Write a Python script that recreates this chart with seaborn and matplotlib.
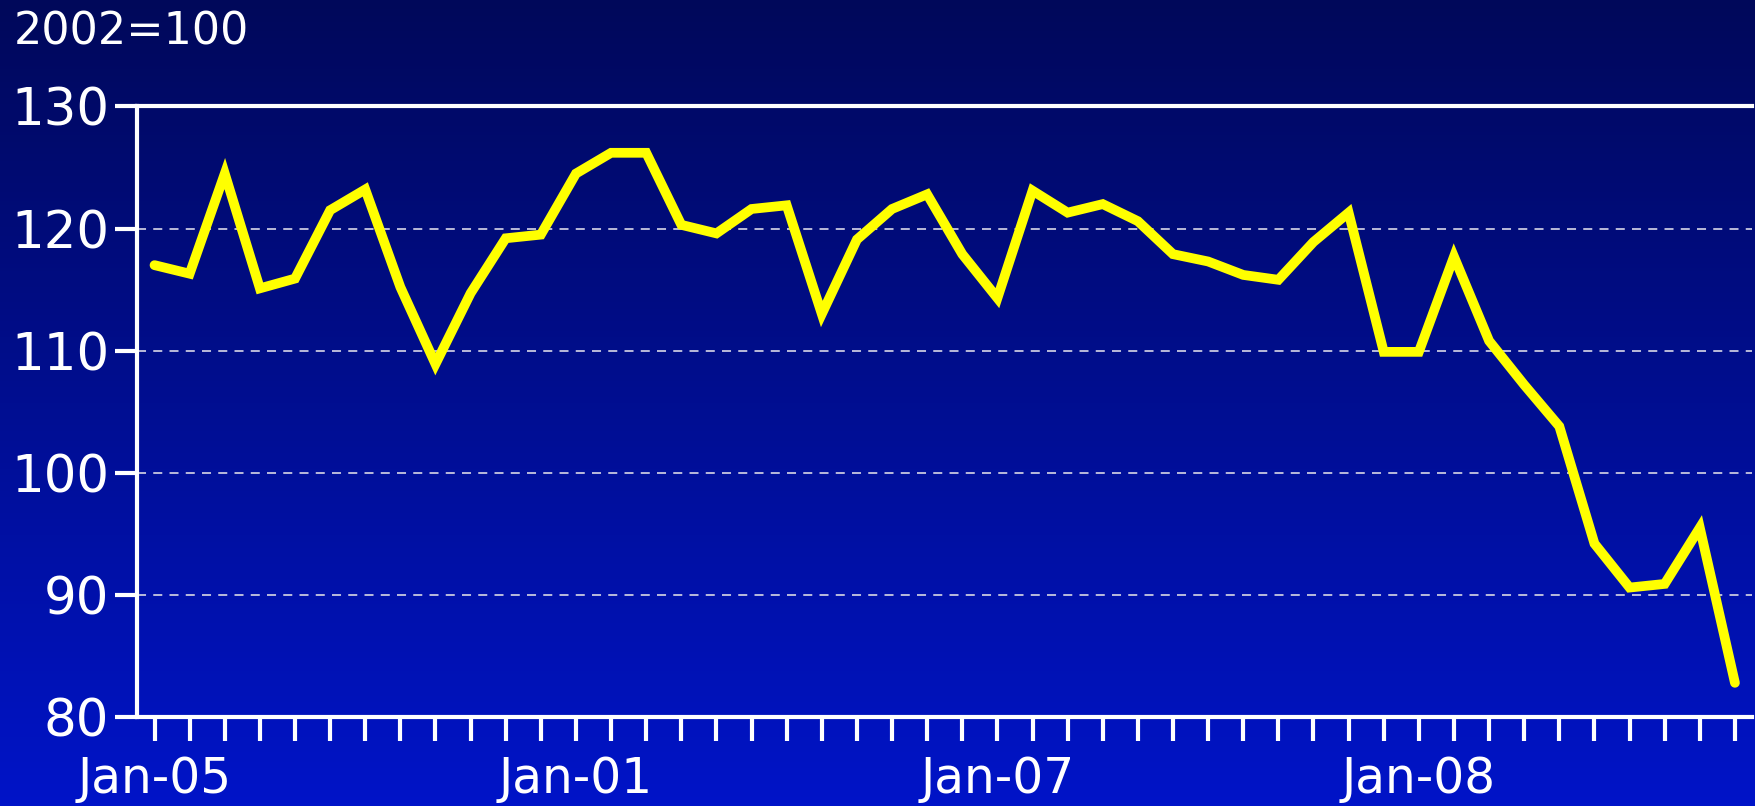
import numpy as np
import pandas as pd
import matplotlib
matplotlib.use("Agg")
import matplotlib.pyplot as plt
import seaborn as sns

# index values, 2002=100, one point per month
values = [117.0, 116.3, 124.5, 115.1, 115.9, 121.5, 123.2, 115.2, 108.9, 114.7,
          119.2, 119.5, 124.5, 126.2, 126.2, 120.3, 119.6, 121.6, 121.9, 113.0,
          119.1, 121.6, 122.8, 117.9, 114.3, 123.1, 121.3, 122.0, 120.6, 117.9,
          117.3, 116.2, 115.8, 118.9, 121.3, 109.9, 109.9, 117.7, 110.8, 107.2,
          103.8, 94.2, 90.6, 90.9, 95.5, 82.8]
tick_labels = ["Jan-05", "Jan-01", "Jan-07", "Jan-08"]
y_ticks = [80, 90, 100, 110, 120, 130]
unit_note = "2002=100"

df = pd.DataFrame({"month": np.arange(len(values)), "index": values})

sns.set_style("white")
plt.rcParams["font.family"] = ["DejaVu Sans"]

fig = plt.figure(figsize=(17.56, 8.06), dpi=100)

# gradient background over the whole figure
bg = fig.add_axes([0, 0, 1, 1], zorder=0)
top = np.array([0, 8, 90]) / 255
bottom = np.array([0, 20, 200]) / 255
t = np.linspace(0, 1, 256)[:, None]
grad = top[None, :] * (1 - t) + bottom[None, :] * t
bg.imshow(grad[:, None, :], aspect="auto", extent=[0, 1, 0, 1])
bg.axis("off")

ax = fig.add_axes([0.078, 0.1104, 0.92, 0.7576], zorder=1)
ax.set_facecolor("none")

sns.lineplot(data=df, x="month", y="index", color="#ffff00", linewidth=7,
             ax=ax, solid_joinstyle="miter", solid_capstyle="round")

ax.set_xlim(-0.5, len(values) - 0.5)
ax.set_ylim(80, 130)
ax.set_yticks(y_ticks)
ax.set_xticks(df["month"])
ax.set_xticklabels([tick_labels[i // 12] if i % 12 == 0 else "" for i in df["month"]])
ax.set_xlabel("")
ax.set_ylabel("")

for y in y_ticks[1:-1]:
    ax.axhline(y, color="#c8c8e0", linewidth=1.3, linestyle=(0, (5, 4)), zorder=0)

for side in ["left", "bottom", "top"]:
    ax.spines[side].set_color("white")
    ax.spines[side].set_linewidth(3)
ax.spines["right"].set_visible(False)

ax.tick_params(axis="y", left=True, colors="white", labelsize=37, length=16,
               width=3, pad=4, direction="out")
ax.tick_params(axis="x", bottom=True, colors="white", labelsize=35, length=17,
               width=3, pad=10, direction="out")

fig.text(0.008, 0.945, unit_note, color="white", fontsize=32, ha="left", va="baseline")

plt.savefig("out.png", dpi=100)
